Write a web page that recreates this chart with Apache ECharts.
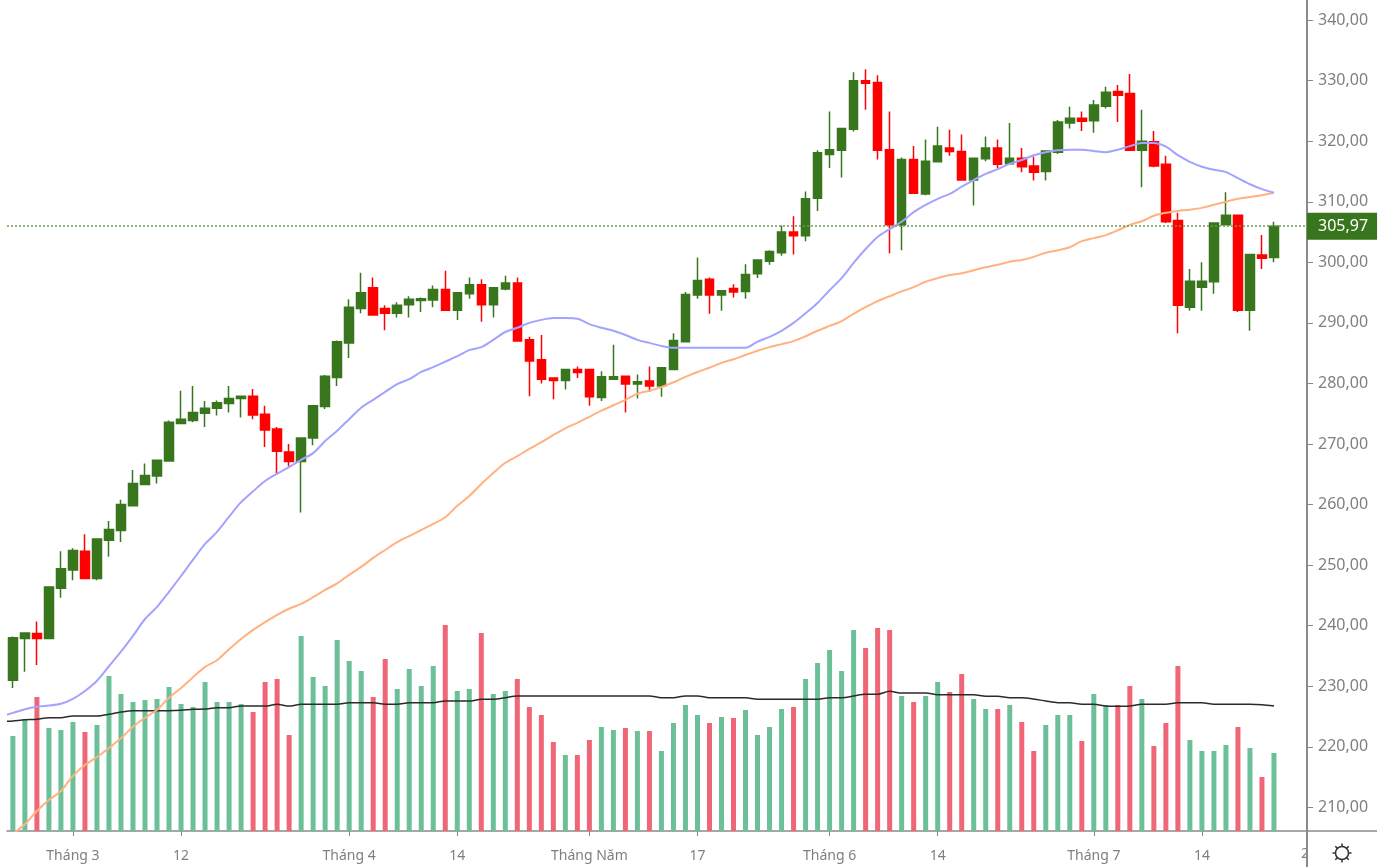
<!DOCTYPE html>
<html>
<head>
<meta charset="utf-8">
<title>Biểu đồ nến</title>
<script src="https://cdn.jsdelivr.net/npm/echarts@6/dist/echarts.min.js"></script>
<style>
  html, body { margin: 0; padding: 0; background: #fff; }
  #chart { width: 1384px; height: 867px; filter: blur(0.4px); }
</style>
</head>
<body>
<div id="chart"></div>
<script>
// [open, close, low, high]
const candles = [
  [231.0,238.0,229.7,238.2],[237.9,238.8,232.4,238.8],[238.7,237.9,233.5,240.7],[237.9,246.4,237.9,246.4],
  [246.2,249.4,244.6,252.3],[249.2,252.4,247.5,252.8],[252.3,247.8,247.8,255.1],[247.8,254.3,247.5,254.3],
  [254.1,255.9,251.4,257.3],[255.7,260.0,253.8,260.8],[259.8,263.5,259.8,265.7],[263.3,264.8,263.3,266.8],
  [264.7,267.3,263.5,267.3],[267.2,273.6,267.2,273.9],[273.4,274.1,273.4,278.8],[273.9,275.2,273.6,279.6],
  [275.1,275.9,272.8,277.1],[275.9,276.8,274.7,277.2],[276.7,277.5,275.2,279.6],[277.5,277.9,274.4,277.9],
  [277.9,274.8,274.1,279.1],[274.9,272.3,269.5,276.3],[272.5,268.8,264.9,272.8],[268.7,267.1,266.3,270.0],
  [267.1,271.0,258.7,271.0],[271.0,276.3,269.8,276.3],[276.2,281.2,275.8,281.4],[281.0,286.9,279.6,287.1],
  [286.7,292.6,284.2,293.9],[292.4,295.0,291.6,298.3],[295.8,291.3,291.3,297.5],[292.4,291.6,288.8,292.9],
  [291.6,292.9,290.9,293.4],[293.0,293.9,290.9,294.4],[293.7,294.0,291.8,294.2],[293.8,295.5,292.6,296.2],
  [295.5,292.1,292.1,298.6],[292.1,295.0,290.5,295.0],[294.8,296.3,294.0,297.5],[296.3,293.0,290.2,297.2],
  [293.0,295.8,290.9,295.8],[295.6,296.6,295.4,297.8],[296.6,287.0,287.0,297.5],[287.2,283.7,277.9,287.7],
  [283.9,280.7,280.0,288.0],[280.9,280.5,277.4,280.9],[280.5,282.3,279.0,282.3],[282.3,281.8,280.9,282.8],
  [282.3,277.8,276.3,282.3],[277.7,281.1,277.1,282.0],[280.7,281.1,280.7,286.4],[281.2,279.9,275.2,281.2],
  [279.9,280.3,277.5,281.5],[280.4,279.6,278.6,282.8],[279.6,282.6,277.8,282.6],[282.3,287.1,282.3,288.3],
  [286.9,294.7,286.9,295.1],[294.6,297.0,294.0,300.8],[297.2,294.6,291.5,297.5],[294.6,295.3,292.0,295.3],
  [295.7,295.1,294.2,296.4],[295.2,298.0,294.0,299.7],[298.1,300.4,297.4,300.4],[300.2,301.8,299.6,302.0],
  [301.6,305.0,301.1,306.1],[305.0,304.4,301.3,307.6],[304.4,310.5,303.5,311.7],[310.6,318.1,308.5,318.5],
  [317.8,318.6,315.6,324.9],[318.5,322.1,314.0,322.1],[322.0,330.0,321.6,331.4],[330.0,329.6,325.2,331.9],
  [329.7,318.5,317.0,330.9],[318.6,306.2,301.5,324.9],[306.2,317.0,302.0,317.3],[317.0,311.4,311.4,319.2],
  [311.3,316.7,311.1,320.3],[316.6,319.2,316.6,322.4],[318.9,318.3,317.6,321.9],[318.3,313.6,313.6,321.1],
  [313.6,317.2,309.4,317.2],[317.1,318.9,316.7,320.8],[318.9,316.2,315.6,320.3],[316.3,317.2,316.2,323.0],
  [317.2,315.8,314.9,318.9],[315.9,314.9,313.5,317.5],[315.0,318.4,313.5,318.4],[318.2,323.2,317.9,323.5],
  [323.0,323.8,322.1,325.7],[323.8,323.3,321.7,324.9],[323.4,326.0,321.4,326.8],[325.8,328.1,325.4,329.0],
  [328.2,327.6,323.2,329.3],[327.9,318.5,318.5,331.1],[318.5,320.0,312.4,325.2],[319.9,315.9,315.7,321.7],
  [316.2,306.7,306.5,317.6],[306.9,292.9,288.3,308.2],[292.6,296.9,292.0,298.9],[295.9,296.9,292.0,300.0],
  [296.8,306.5,294.8,306.5],[306.2,307.8,306.2,311.6],[307.8,292.1,291.8,307.8],[292.1,301.3,288.7,301.3],
  [301.2,300.7,298.9,304.5],[300.8,305.97,300.0,306.7]
]

const volumes = [
  95,112,134,103,101,109,99,106,155,137,129,131,132,144,127,124,149,129,129,127,
  119,149,152,96,195,154,145,191,170,160,134,172,142,162,145,165,206,140,142,198,
  137,140,152,124,116,89,76,76,91,104,101,103,100,100,80,108,126,116,108,114,
  113,121,96,104,122,124,152,168,181,160,201,183,203,201,135,129,135,149,139,157,
  132,122,122,126,109,80,106,116,116,90,137,126,126,145,132,85,108,165,91,80,
  80,86,104,83,54,78
]

// first value of each line sits half a bar left of the first candle
const maFast = [
  225.3,225.6,226.2,226.6,226.8,227.1,227.9,229.2,230.9,233.3,235.7,238.3,241.1,243.1,245.6,248.2,250.9,253.5,255.5,258.0,
  260.4,262.2,263.9,265.1,266.2,267.4,268.5,270.5,272.2,274.1,276.0,277.3,278.6,279.9,280.7,281.9,282.7,283.6,284.5,285.5,
  286.0,287.2,288.5,289.2,290.0,290.5,290.8,290.8,290.7,289.8,289.2,288.7,288.0,287.2,286.7,286.2,285.9,285.9,285.9,285.9,
  285.9,285.9,285.9,286.9,287.7,288.7,290.0,291.6,293.3,295.4,297.4,299.9,302.2,304.2,305.5,306.7,308.3,309.5,310.5,311.3,
  312.5,313.6,314.6,315.4,316.3,316.9,317.7,318.2,318.5,318.6,318.6,318.4,318.2,318.6,319.2,319.7,319.7,319.1,317.7,316.6,
  315.8,315.3,314.9,313.9,312.9,312.1,311.5
]

const maSlow = [
  205.6,207.2,209.4,211.2,212.7,215.2,217.0,218.3,219.8,221.4,223.3,224.8,226.1,228.1,229.7,231.5,233.2,234.3,236.1,237.8,
  239.3,240.6,241.8,242.8,243.6,244.7,245.9,247.0,248.4,249.7,251.2,252.5,253.8,254.8,255.8,256.8,257.9,259.8,261.4,263.4,
  265.2,266.9,268.0,269.2,270.3,271.5,272.6,273.5,274.5,275.5,276.4,277.3,278.3,278.8,279.4,280.2,281.1,281.9,282.6,283.4,
  284.0,284.7,285.4,286.0,286.5,287.0,287.8,288.7,289.5,290.3,291.5,292.6,293.6,294.4,295.2,295.9,296.8,297.4,297.9,298.2,
  298.7,299.2,299.6,300.1,300.4,300.9,301.6,302.0,302.5,303.5,304.0,304.5,305.3,306.2,306.8,307.7,308.2,308.5,308.7,309.0,
  309.5,310.0,310.5,310.8,311.1,311.5
]

const maVolume = [
  109.7,110,111.3,111.7,113.3,113.3,115,115,115,116.7,119,120.3,120.3,120.3,120.3,120.7,121.7,122,123.3,123.3,
  125,125,125,126.7,125,126.7,126.7,126.7,126.7,128.3,128.3,128.3,126.7,126.7,128.3,128.3,128.3,130,130,130,
  131.7,131.7,133.3,135,135,135,135,135,135,135,135,135,135,135,135,133.3,133.3,135,135,133.3,
  133.3,133.3,133.3,131.7,131.7,131.7,131.7,131.7,131.7,133.3,133.3,135,136.7,136.7,139.7,138,138,138,136.3,136.3,
  136.3,136.3,134.7,134.7,133.3,133.3,132,130,128.3,128.3,126.7,126.7,125,124.7,125,126.7,126.7,126.7,128.3,128.3,
  128.3,126.7,126.7,126.7,126.7,126.3,125
]

const priceTicks = [210,220,230,240,250,260,270,280,290,300,310,320,330,340]
const dateTicks = [5,14,28,37,48,57,68,77,90,99]
const dateLabels = ['Tháng 3','12','Tháng 4','14','Tháng Năm','17','Tháng 6','14','Tháng 7','14']
const lastPrice = 305.97

const green = '#38761d'
const red = '#ff0000'
const axisGray = '#8a8a8a'
const textGray = '#7f7f7f'
const font = '"Noto Sans", sans-serif'

const comma = v => v.toFixed(2).replace('.', ',')

// gear teeth around the ring in the corner
const gearTeeth = [0, 1, 2, 3, 4, 5, 6, 7].map(k => {
  const a = k * Math.PI / 4
  return {
    type: 'line',
    z: 12,
    shape: {
      x1: 1342 + 6.5 * Math.cos(a), y1: 853 + 6.5 * Math.sin(a),
      x2: 1342 + 9.5 * Math.cos(a), y2: 853 + 9.5 * Math.sin(a)
    },
    style: { stroke: '#333', lineWidth: 1.5 }
  }
})

const myChart = echarts.init(document.getElementById('chart'))

const option = {
  animation: false,
  backgroundColor: '#fff',
  grid: { left: 7, top: 0, width: 1300, height: 831 },
  xAxis: {
    type: 'value',
    min: -0.49,
    max: 107.75,
    splitLine: { show: false },
    axisLine: { onZero: false, lineStyle: { color: axisGray, width: 1.5 } },
    axisTick: { customValues: dateTicks, length: 5, lineStyle: { color: axisGray } },
    axisLabel: {
      customValues: dateTicks,
      margin: 18,
      color: textGray,
      fontFamily: font,
      fontSize: 14,
      formatter: v => dateLabels[dateTicks.indexOf(v)]
    }
  },
  yAxis: [
    {
      type: 'value',
      position: 'right',
      min: 206.09,
      max: 343.33,
      splitLine: { show: false },
      axisLine: { show: true, onZero: false, lineStyle: { color: axisGray, width: 2 } },
      axisTick: { show: true, customValues: priceTicks, length: 6, lineStyle: { color: axisGray } },
      axisLabel: {
        customValues: priceTicks,
        margin: 11,
        padding: [6, 0, 0, 0],
        color: textGray,
        fontFamily: font,
        fontSize: 16,
        formatter: comma
      }
    },
    {
      // volume pane shares the grid, height of the bars only
      type: 'value',
      min: 0,
      max: 831,
      show: false
    }
  ],
  series: [
    {
      name: 'Khối lượng',
      type: 'bar',
      yAxisIndex: 1,
      barWidth: 5,
      data: volumes.map((v, i) => ({
        value: [i, v],
        itemStyle: { color: candles[i][1] >= candles[i][0] ? '#6cc098' : '#ef6676' }
      }))
    },
    {
      name: 'MA khối lượng',
      type: 'line',
      yAxisIndex: 1,
      showSymbol: false,
      smooth: 0.3,
      lineStyle: { color: '#2b2b2b', width: 1.5 },
      data: maVolume.map((v, i) => [i - 1 < 0 ? -0.49 : i - 1, v])
    },
    {
      name: 'MA chậm',
      type: 'line',
      showSymbol: false,
      smooth: 0.3,
      lineStyle: { color: '#ffb280', width: 2 },
      data: maSlow.map((v, i) => [i, v])
    },
    {
      name: 'MA nhanh',
      type: 'line',
      showSymbol: false,
      smooth: 0.3,
      lineStyle: { color: '#a3a3ff', width: 2 },
      data: maFast.map((v, i) => [i - 1 < 0 ? -0.49 : i - 1, v])
    },
    {
      name: 'Giá',
      type: 'candlestick',
      barWidth: 9,
      encode: { x: 0, y: [1, 2, 3, 4] },
      itemStyle: { color: green, borderColor: green, color0: red, borderColor0: red, borderWidth: 1.5 },
      data: candles.map((c, i) => [i, c[0], c[1], c[2], c[3]]),
      markLine: {
        silent: true,
        symbol: 'none',
        lineStyle: { color: '#6f9d55', type: [2, 2], width: 1.5 },
        label: {
          position: 'end',
          distance: 0,
          formatter: comma(lastPrice),
          color: '#fff',
          fontFamily: font,
          fontSize: 16,
          backgroundColor: green,
          align: 'left',
          lineHeight: 26,
          padding: [1, 9, 0, 11]
        },
        data: [{ yAxis: lastPrice }]
      }
    }
  ],
  graphic: [
    { type: 'text', x: 1301, y: 847, z: 10, style: { text: '21', fill: textGray, font: '14px "Noto Sans"' } },
    { type: 'rect', shape: { x: 1306, y: 836, width: 78, height: 31 }, z: 11, style: { fill: '#fff' } },
    { type: 'line', shape: { x1: 1307, y1: 831, x2: 1377, y2: 831 }, z: 12, style: { stroke: axisGray, lineWidth: 1.5 } },
    { type: 'line', shape: { x1: 1307, y1: 831, x2: 1307, y2: 867 }, z: 12, style: { stroke: axisGray, lineWidth: 2 } },
    { type: 'circle', shape: { cx: 1342, cy: 853, r: 6.5 }, z: 12, style: { fill: 'none', stroke: '#333', lineWidth: 1.5 } }
  ].concat(gearTeeth)
}

myChart.setOption(option)
</script>
</body>
</html>
